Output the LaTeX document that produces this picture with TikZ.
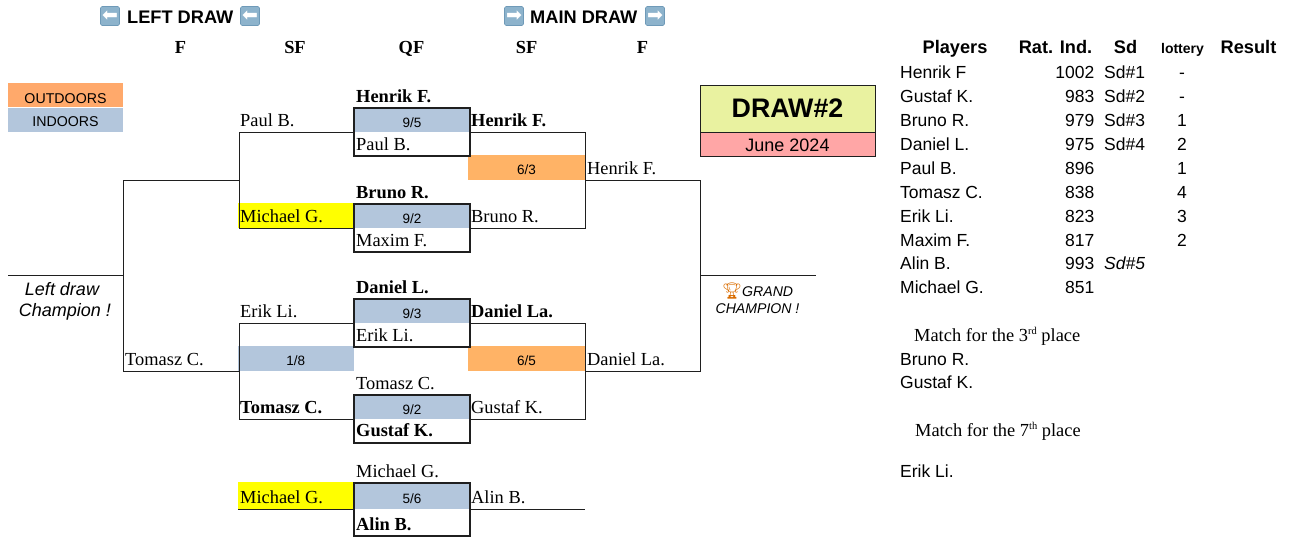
\documentclass[tikz,border=0pt]{standalone}
\usepackage{fontspec}
\setmainfont{Liberation Serif}
\setsansfont{Liberation Sans}
\newfontfamily\symfont{DejaVu Sans}
\newfontfamily\emojifont{Noto Emoji}
\definecolor{indoor}{HTML}{B3C6DC}
\definecolor{outdoorA}{HTML}{FFA96B}
\definecolor{outdoorB}{HTML}{FFB366}
\definecolor{drawcol}{HTML}{E9F2A0}
\definecolor{datecol}{HTML}{FFA6A6}
\definecolor{arrowbg}{HTML}{8DB3CC}
\definecolor{arrowln}{HTML}{6F9AB8}
\definecolor{linecol}{HTML}{1F1F1F}
\definecolor{pureyellow}{HTML}{FFFF00}
\newcommand{\supsm}[1]{\raisebox{6.5pt}{\fontsize{10.5}{11}\selectfont #1}}
\tikzset{
  x=1pt,y=-1pt,
  nm/.style={anchor=base west,inner sep=0pt,font=\fontsize{18.4}{20}\selectfont},
  nmb/.style={nm,font=\fontsize{18.4}{20}\selectfont\bfseries},
  headrd/.style={anchor=base,inner sep=0pt,font=\fontsize{18.4}{20}\selectfont\bfseries},
  sn/.style={anchor=base west,inner sep=0pt,font=\fontsize{17.5}{20}\selectfont\sffamily},
  rate/.style={sn,anchor=base east},
  lot/.style={sn,anchor=base},
  hd/.style={anchor=base,inner sep=0pt,font=\fontsize{18.2}{20}\selectfont\sffamily\bfseries},
  cell/.style={draw=none,inner sep=0pt,outer sep=0pt,minimum width=#1,minimum height=24pt,anchor=north west,
    text height=17pt,text depth=3pt,font=\fontsize{13.5}{15}\selectfont\sffamily},
  arrowbox/.style={fill=arrowbg,draw=arrowln,line width=0.6pt,rounded corners=1.5pt,text=white,inner sep=0pt,minimum width=19pt,minimum height=19pt,
    text height=11pt,text depth=0pt,font=\fontsize{19}{19}\selectfont\symfont},
  conn/.style={line width=1pt,draw=linecol},
  frame/.style={line width=1.2pt,draw=linecol},
}
\begin{document}
\begin{tikzpicture}
\useasboundingbox (0,0) rectangle (1295,544);
% legend
\node[cell=115pt,fill=outdoorA,font=\fontsize{14.2}{15}\selectfont\sffamily,text height=19pt,text depth=3pt] (outd) at (8,83) {OUTDOORS};
\node[cell=115pt,fill=indoor,font=\fontsize{14.2}{15}\selectfont\sffamily] (ind) at (8,107.5) {INDOORS};
% colored cells
\node[cell=116pt,fill=pureyellow,minimum height=25pt] (y1) at (238,203) {};
\node[cell=116pt,minimum height=27pt,fill=pureyellow] (y2) at (238,482) {};
\node[cell=116.5pt,minimum height=25pt,fill=indoor] (m18) at (237.5,346) {1/8};
\node[cell=117pt,minimum height=25pt,fill=outdoorB] (o1) at (468,155) {6/3};
\node[cell=117pt,minimum height=25pt,fill=outdoorB] (o2) at (468,346) {6/5};
% quarter-final score cells
\node[cell=116pt,fill=indoor] (s1) at (354,108) {9/5};
\node[cell=116pt,fill=indoor] (s2) at (354,204) {9/2};
\node[cell=116pt,fill=indoor] (s3) at (354,299) {9/3};
\node[cell=116pt,fill=indoor] (s4) at (354,395) {9/2};
\node[cell=116pt,minimum height=26pt,fill=indoor] (s5) at (354,483) {5/6};
% quarter-final frames
\coordinate (b1) at (470,156);
\coordinate (b2) at (470,252);
\coordinate (b3) at (470,347);
\coordinate (b4) at (470,443);
\coordinate (b5) at (470,536);
\draw[frame] (s1.north west) rectangle (b1);
\draw[frame] (s2.north west) rectangle (b2);
\draw[frame] (s3.north west) rectangle (b3);
\draw[frame] (s4.north west) rectangle (b4);
\draw[frame] (s5.north west) rectangle (b5);
% bracket junctions
\coordinate (la) at (239,180);
\coordinate (lb) at (239,371);
\coordinate (ra) at (585,180);
\coordinate (rb) at (585,371);
\coordinate (lc) at (123.5,275.5);
\coordinate (rc) at (700,275.5);
\coordinate (lc0) at (8,275.5);
\coordinate (rc0) at (816,275.5);
\coordinate (l1) at (239,132);
\coordinate (l2) at (239,228);
\coordinate (l3) at (239,323);
\coordinate (l4) at (239,419);
\coordinate (r1) at (585,132);
\coordinate (r2) at (585,228);
\coordinate (r3) at (585,323);
\coordinate (r4) at (585,419);
\coordinate (r5) at (585,509);
% left bracket
\draw[conn] (s1.south west) -- (l1) -- (l2) -- (s2.south west);
\draw[conn] (s3.south west) -- (l3) -- (l4) -- (s4.south west);
\draw[conn] (y2.south west) -- (s5.south west);
\draw[conn] (la) -- (lc |- la) -- (lc |- lb) -- (lb);
\draw[conn] (lc0) -- (lc);
% right bracket
\draw[conn] (s1.south east) -- (r1) -- (r2) -- (s2.south east);
\draw[conn] (s3.south east) -- (r3) -- (r4) -- (s4.south east);
\draw[conn] (s5.south east) -- (r5);
\draw[conn] (ra) -- (rc |- ra) -- (rc |- rb) -- (rb);
\draw[conn] (rc) -- (rc0);
% title box
\node[draw=linecol,line width=1pt,fill=drawcol,inner sep=0pt,anchor=north west,minimum width=175pt,minimum height=47.5pt,
  text height=24pt,text depth=6.5pt,font=\fontsize{26.8}{30}\selectfont\sffamily\bfseries] (draw2) at (699.5,84.5) {DRAW\#2};
\node[draw=linecol,line width=1pt,fill=datecol,inner sep=0pt,anchor=north west,minimum width=175pt,minimum height=24pt,
  text height=16pt,text depth=2.6pt,font=\fontsize{18}{20}\selectfont\sffamily] (june) at (699.5,132) {June 2024};
% headers
\node[arrowbox] (ha1) at (110,16) {⬅};
\node[hd,anchor=base west] (ht1) at (127,23.2) {LEFT DRAW};
\node[arrowbox] (ha2) at (250,16) {⬅};
\node[arrowbox] (ha3) at (514,16) {➡};
\node[hd,anchor=base west] (ht2) at (530,23.2) {MAIN DRAW};
\node[arrowbox] (ha4) at (655,16) {➡};
\node[headrd] (c1) at (180.5,53.2) {F};
\node[headrd] (c2) at (295,53.2) {SF};
\node[headrd] (c3) at (411.5,53.2) {QF};
\node[headrd] (c4) at (526.5,53.2) {SF};
\node[headrd] (c5) at (642.5,53.2) {F};
% names
\node[nmb] (n1) at (356,102) {Henrik F.};
\node[nm] (n2) at (240,126) {Paul B.};
\node[nm] (n3) at (356,150) {Paul B.};
\node[nmb] (n4) at (471,126) {Henrik F.};
\node[nm] (n5) at (587,174) {Henrik F.};
\node[nmb] (n6) at (356,198) {Bruno R.};
\node[nm] (n7) at (240,222) {Michael G.};
\node[nm] (n8) at (471,222) {Bruno R.};
\node[nm] (n9) at (356,246) {Maxim F.};
\node[nmb] (n10) at (356,293) {Daniel L.};
\node[nm] (n11) at (240,317) {Erik Li.};
\node[nmb] (n12) at (471,317) {Daniel La.};
\node[nm] (n13) at (356,341) {Erik Li.};
\node[nm] (n14) at (125,365) {Tomasz C.};
\node[nm] (n15) at (587,365) {Daniel La.};
\node[nm] (n16) at (356,389) {Tomasz C.};
\node[nmb] (n17) at (240,413) {Tomasz C.};
\node[nm] (n18) at (471,413) {Gustaf K.};
\node[nmb] (n19) at (356,436) {Gustaf K.};
\node[nm] (n20) at (356,477) {Michael G.};
\node[nm] (n21) at (240,503) {Michael G.};
\node[nm] (n22) at (471,503) {Alin B.};
\node[nmb] (n23) at (356,530) {Alin B.};
% champions
\node[anchor=base,inner sep=0pt,font=\fontsize{18}{20}\selectfont\sffamily\itshape] (lc1) at (62,295) {Left draw};
\node[anchor=base,inner sep=0pt,font=\fontsize{18}{20}\selectfont\sffamily\itshape] (lc2) at (65,316) {Champion !};
\node[anchor=base,inner sep=0pt,font=\fontsize{14.1}{15}\selectfont\sffamily\itshape] (gc1) at (757.5,296) {{\emojifont\fontsize{16}{16}\selectfont\color{orange!85!black}🏆}GRAND};
\node[anchor=base,inner sep=0pt,font=\fontsize{14.1}{15}\selectfont\sffamily\itshape] (gc2) at (757.5,313) {CHAMPION !};
% table
\node[hd] (t1) at (955,53.2) {Players};
\node[hd] (t2) at (1055.5,53.2) {Rat. Ind.};
\node[hd] (t3) at (1125.5,53.2) {Sd};
\node[hd,font=\fontsize{14}{15}\selectfont\sffamily\bfseries] (t4) at (1182.5,53.2) {lottery};
\node[hd] (t5) at (1248.5,53.2) {Result};
\node[sn] (p1) at (900,78) {Henrik F};
\node[sn] (p2) at (900,102) {Gustaf K.};
\node[sn] (p3) at (900,126) {Bruno R.};
\node[sn] (p4) at (900,150) {Daniel L.};
\node[sn] (p5) at (900,174) {Paul B.};
\node[sn] (p6) at (900,198) {Tomasz C.};
\node[sn] (p7) at (900,222) {Erik Li.};
\node[sn] (p8) at (900,246) {Maxim F.};
\node[sn] (p9) at (900,269.3) {Alin B.};
\node[sn] (p10) at (900,293) {Michael G.};
\node[rate] (r01) at (1094.5,78) {1002};
\node[rate] (r02) at (1094.5,102) {983};
\node[rate] (r03) at (1094.5,126) {979};
\node[rate] (r04) at (1094.5,150) {975};
\node[rate] (r05) at (1094.5,174) {896};
\node[rate] (r06) at (1094.5,198) {838};
\node[rate] (r07) at (1094.5,222) {823};
\node[rate] (r08) at (1094.5,246) {817};
\node[rate] (r09) at (1094.5,269.3) {993};
\node[rate] (r10) at (1094.5,293) {851};
\node[sn] (d1) at (1104,78) {Sd\#1};
\node[sn] (d2) at (1104,102) {Sd\#2};
\node[sn] (d3) at (1104,126) {Sd\#3};
\node[sn] (d4) at (1104,150) {Sd\#4};
\node[sn,font=\fontsize{17.5}{20}\selectfont\sffamily\itshape] (d5) at (1104,269.3) {Sd\#5};
\node[lot] (o01) at (1182,78) {-};
\node[lot] (o02) at (1182,102) {-};
\node[lot] (o03) at (1182,126) {1};
\node[lot] (o04) at (1182,150) {2};
\node[lot] (o05) at (1182,174) {1};
\node[lot] (o06) at (1182,198) {4};
\node[lot] (o07) at (1182,222) {3};
\node[lot] (o08) at (1182,246) {2};
% placement matches
\node[nm] (m3) at (914,341) {Match for the 3\supsm{rd} place};
\node[sn] (m3a) at (900,365) {Bruno R.};
\node[sn] (m3b) at (900,388.5) {Gustaf K.};
\node[nm] (m7) at (915,436) {Match for the 7\supsm{th} place};
\node[sn] (m7a) at (900,477) {Erik Li.};
\end{tikzpicture}
\end{document}
